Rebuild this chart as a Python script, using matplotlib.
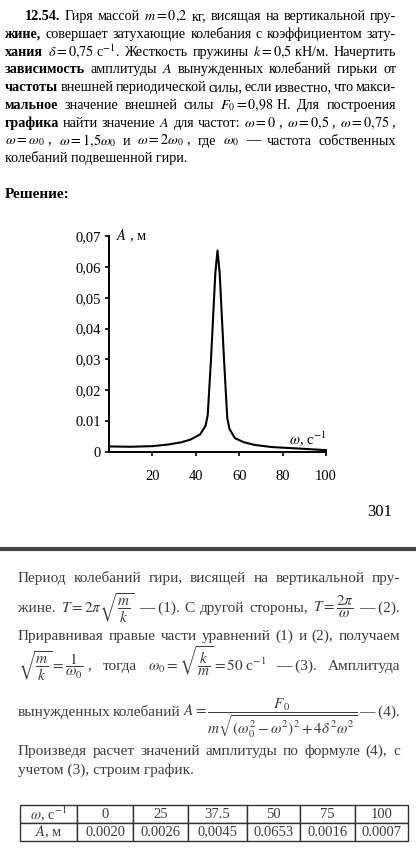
import matplotlib
matplotlib.use("Agg")
import matplotlib.pyplot as plt
from matplotlib.lines import Line2D

plt.rcParams['font.family'] = ['Liberation Serif', 'DejaVu Serif']
plt.rcParams['mathtext.fontset'] = 'stix'

# Resonance curve
omega = [0, 10, 20, 27, 33, 37.5, 42, 44.5, 45.5, 47, 49, 50, 51, 53, 54.5, 55.5, 58, 62, 67, 75, 88, 100]
amp = [0.0018, 0.0017, 0.0019, 0.0024, 0.0031, 0.0040, 0.0057, 0.0085, 0.0120, 0.0300, 0.0580, 0.0653,
       0.0580, 0.0300, 0.0110, 0.0075, 0.0045, 0.0032, 0.0023, 0.0016, 0.0011, 0.0006]
x_ticks = [20, 40, 60, 80, 100]
y_ticks = [0, 0.01, 0.02, 0.03, 0.04, 0.05, 0.06, 0.07]
y_labels = ['0', '0.01', '0,02', '0,03', '0,04', '0,05', '0,06', '0,07']

# Table at the bottom of the page
tbl_omega = ['$\\omega$, с$^{-1}$', '0', '25', '37.5', '50', '75', '100']
tbl_amp = ['$A$, м', '0.0020', '0.0026', '0,0045', '0.0653', '0.0016', '0.0007']

W, H = 416, 860
fig = plt.figure(figsize=(W / 100, H / 100), dpi=100)
renderer = fig.canvas.get_renderer()


def put(x, y, s, **kw):
    return fig.text(x / W, 1 - y / H, s, va='baseline', **kw)


# Place words of one line so that it fills x0..x1 (book-style justified)
def justify(y, words, x0, x1, size=10.2, color='black'):
    texts = []
    for w in words:
        bold = isinstance(w, tuple)
        s = w[0] if bold else w
        texts.append(put(x0, y, s, ha='left', fontsize=size, color=color,
                         fontweight='bold' if bold else 'normal'))
    widths = [t.get_window_extent(renderer).width for t in texts]
    gap = (x1 - x0 - sum(widths)) / max(len(words) - 1, 1)
    x = x0
    for t, w in zip(texts, widths):
        t.set_x(x / W)
        x += w + gap


# --- problem statement ---
top = [
    (25, [('12.54.',), 'Гиря', 'массой', '$m = 0{,}2$', 'кг,', 'висящая', 'на', 'вертикальной', 'пру-']),
    (5, [('жине,',), 'совершает', 'затухающие', 'колебания', 'с', 'коэффициентом', 'зату-']),
    (5, [('хания',), '$\\delta = 0{,}75$ с$^{-1}$.', 'Жесткость', 'пружины', '$k = 0{,}5$ кН/м.', 'Начертить']),
    (5, [('зависимость',), 'амплитуды', '$A$', 'вынужденных', 'колебаний', 'гирьки', 'от']),
    (5, [('частоты',), 'внешней', 'периодической', 'силы,', 'если', 'известно,', 'что', 'макси-']),
    (5, [('мальное',), 'значение', 'внешней', 'силы', '$F_0 = 0{,}98$ Н.', 'Для', 'построения']),
    (5, [('графика',), 'найти', 'значение', '$A$', 'для', 'частот:', '$\\omega = 0$ ,',
         '$\\omega = 0{,}5$ ,', '$\\omega = 0{,}75$ ,']),
    (5, ['$\\omega = \\omega_0$ ,', '$\\omega = 1{,}5\\omega_0$', 'и', '$\\omega = 2\\omega_0$ ,', 'где',
         '$\\omega_0$', '—', 'частота', 'собственных']),
]
y = 20
for x0, words in top:
    justify(y, words, x0, 396)
    y += 17.8
put(5, y, 'колебаний подвешенной гири.', fontsize=10.2)
put(5, 198, 'Решение:', fontsize=11, fontweight='bold')

# --- chart ---
ax = fig.add_axes([109 / W, 1 - 452 / H, 217 / W, 216 / H])
ax.plot(omega, amp, color='black', lw=1.5, clip_on=False)
ax.set_xlim(0, 100)
ax.set_ylim(0, 0.07)
ax.set_xticks(x_ticks)
ax.set_yticks(y_ticks)
ax.set_yticklabels(y_labels)
for side in ['top', 'right']:
    ax.spines[side].set_visible(False)
for side in ['left', 'bottom']:
    ax.spines[side].set_linewidth(1.4)
ax.tick_params(axis='x', length=3, width=1.2, pad=10, labelsize=10.5)
ax.tick_params(axis='y', length=3, width=1.2, pad=3, labelsize=10.5)
ax.text(3, 0.07, '$A$ , м', fontsize=10.5, va='center', ha='left')
ax.text(100, 0.0045, '$\\omega$, с$^{-1}$', fontsize=10.5, va='center', ha='right')

put(392, 516, '301', fontsize=12, ha='right')
fig.add_artist(Line2D([0, 1], [1 - 549 / H] * 2, transform=fig.transFigure, color='#444444', lw=3))

# --- solution text ---
gray = '#3c3c3c'
justify(582, ['Период', 'колебаний', 'гири,', 'висящей', 'на', 'вертикальной', 'пру-'], 18, 400, 11, gray)
justify(612, ['жине.', '$T = 2\\pi\\sqrt{\\dfrac{m}{k}}$', '— (1).', 'С', 'другой', 'стороны,',
              '$T = \\dfrac{2\\pi}{\\omega}$', '— (2).'], 18, 400, 11, gray)
justify(640, ['Приравнивая', 'правые', 'части', 'уравнений', '(1)', 'и', '(2),', 'получаем'], 18, 400, 11, gray)
justify(670, ['$\\sqrt{\\dfrac{m}{k}} = \\dfrac{1}{\\omega_0}$ ,', 'тогда',
              '$\\omega_0 = \\sqrt{\\dfrac{k}{m}} = 50$ с$^{-1}$', '— (3).', 'Амплитуда'], 18, 400, 11, gray)
justify(716, ['вынужденных', 'колебаний',
              '$A = \\dfrac{F_0}{m\\sqrt{(\\omega_0^2 - \\omega^2)^2 + 4\\delta^2\\omega^2}}$', '— (4).'],
        18, 400, 11, gray)
justify(755, ['Произведя', 'расчет', 'значений', 'амплитуды', 'по', 'формуле', '(4),', 'с'], 18, 400, 11, gray)
put(18, 774, 'учетом (3), строим график.', fontsize=11, color=gray)

tax = fig.add_axes([20 / W, 1 - 841 / H, 388 / W, 36 / H])
tax.axis('off')
table = tax.table(cellText=[tbl_omega, tbl_amp], cellLoc='center', bbox=[0, 0, 1, 1],
                  colWidths=[57, 56, 55, 59, 53, 55, 53])
table.auto_set_font_size(False)
for cell in table.get_celld().values():
    cell.set_linewidth(1.0)
    cell.set_edgecolor('#333333')
    cell.get_text().set_fontsize(10.5)
    cell.get_text().set_color(gray)

fig.savefig('out.png', dpi=100)
